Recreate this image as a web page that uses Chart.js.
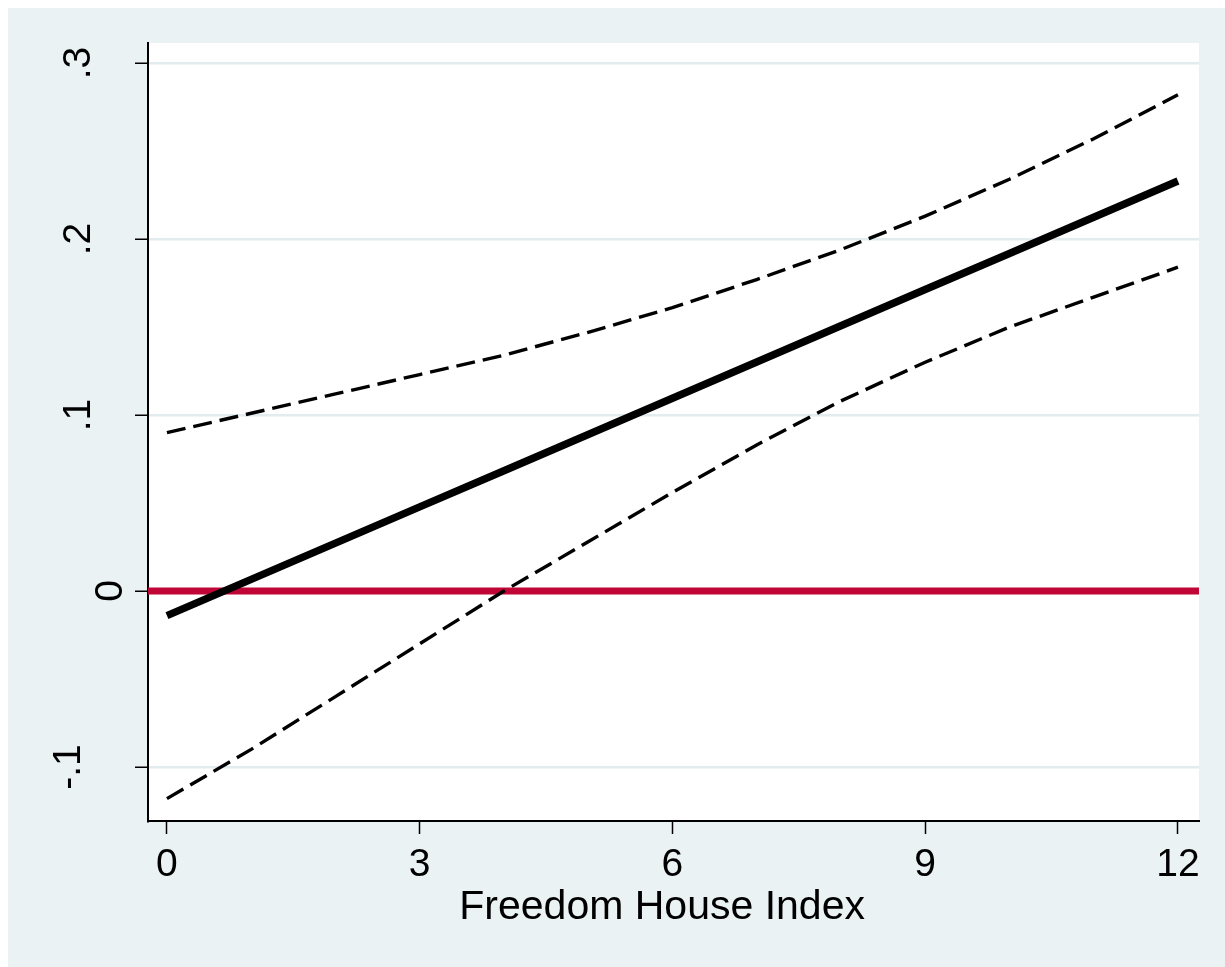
<!DOCTYPE html>
<html>
<head>
<meta charset="utf-8">
<script src="https://cdn.jsdelivr.net/npm/chart.js@4"></script>
<style>
  html, body { margin: 0; padding: 0; background: #ffffff; overflow: hidden; }
  canvas { display: block; }
</style>
</head>
<body>
<canvas id="c" width="1225" height="967"></canvas>
<script>
// ---- data ----
const xValues   = [0, 1, 2, 3, 4, 5, 6, 7, 8, 9, 10, 11, 12];
const predicted = [-0.0140, 0.0066, 0.0272, 0.0478, 0.0683, 0.0889, 0.1095, 0.1301, 0.1507, 0.1713, 0.1918, 0.2124, 0.2330];
const upperCI   = [0.090, 0.101, 0.112, 0.123, 0.134, 0.147, 0.161, 0.177, 0.194, 0.213, 0.234, 0.257, 0.282];
const lowerCI   = [-0.118, -0.090, -0.060, -0.030, 0.000, 0.028, 0.056, 0.083, 0.108, 0.130, 0.150, 0.167, 0.184];
const refLineY  = 0;

const xTicks = [0, 3, 6, 9, 12];
const xTickLabels = ['0', '3', '6', '9', '12'];
const yTicks = [-0.1, 0, 0.1, 0.2, 0.3];
const yTickLabels = ['-.1', '0', '.1', '.2', '.3'];
const xTitle = 'Freedom House Index';

const xMin = -0.225, xMax = 12.25;
const yMin = -0.1307, yMax = 0.3114;

// ---- styling ----
const FONT = "'Liberation Sans', Arial, Helvetica, sans-serif";
const BG = '#EAF2F3';
const GRID = '#E2ECEF';

const toPts = (ys) => xValues.map((x, i) => ({ x: x, y: ys[i] }));

const bgPlugin = {
  id: 'bg',
  beforeDraw(chart) {
    const ctx = chart.ctx, a = chart.chartArea;
    ctx.save();
    ctx.fillStyle = '#ffffff';
    ctx.fillRect(0, 0, chart.width, chart.height);
    ctx.fillStyle = BG;
    ctx.fillRect(8, 8, chart.width - 8, chart.height - 8);
    ctx.fillStyle = '#ffffff';
    ctx.fillRect(a.left, a.top, a.right - a.left, a.bottom - a.top);
    ctx.restore();
  }
};

// per-label cross offset (Stata places rotated labels unevenly)
const yLineHeights = { '-.1': '20px', '0': '64px' };

new Chart(document.getElementById('c'), {
  type: 'scatter',
  data: {
    datasets: [
      {
        data: toPts(predicted), showLine: true, borderColor: '#000000',
        borderWidth: 7.5, pointRadius: 0, fill: false
      },
      {
        data: toPts(upperCI), showLine: true, borderColor: '#000000',
        borderWidth: 3.4, borderDash: [19, 8], pointRadius: 0, fill: false
      },
      {
        data: toPts(lowerCI), showLine: true, borderColor: '#000000',
        borderWidth: 3.4, borderDash: [19, 8], pointRadius: 0, fill: false
      },
      {
        data: [{ x: xMin, y: refLineY }, { x: xMax, y: refLineY }], showLine: true,
        borderColor: '#C00637', borderWidth: 7, pointRadius: 0, fill: false
      }
    ]
  },
  options: {
    responsive: false,
    animation: false,
    devicePixelRatio: 1,
    layout: { padding: { top: 43, right: 26, left: 0, bottom: 0 } },
    plugins: {
      legend: { display: false },
      tooltip: { enabled: false }
    },
    scales: {
      x: {
        type: 'linear',
        min: xMin, max: xMax,
        afterFit(scale) {
          scale.height = 146;
          scale.paddingLeft = 0; scale.paddingRight = 0;
        },
        afterBuildTicks(scale) { scale.ticks = xTicks.map(v => ({ value: v })); },
        border: { display: true, color: '#000000', width: 2 },
        grid: {
          display: true, drawOnChartArea: false, drawTicks: true,
          tickLength: 13, tickColor: '#000000', tickWidth: 1.5
        },
        ticks: {
          autoSkip: false, maxRotation: 0, minRotation: 0,
          padding: 8, color: '#000000',
          font: { family: FONT, size: 39 },
          callback: (v, i) => xTickLabels[i]
        },
        title: {
          display: true, text: xTitle + '  ', color: '#000000',
          font: { family: FONT, size: 41 },
          padding: { top: 0, bottom: 35 }
        }
      },
      y: {
        type: 'linear',
        min: yMin, max: yMax,
        afterFit(scale) {
          scale.width = 148;
          scale.paddingTop = 0; scale.paddingBottom = 0;
        },
        afterBuildTicks(scale) { scale.ticks = yTicks.map(v => ({ value: v })); },
        border: { display: true, color: '#000000', width: 2 },
        grid: {
          display: true, drawOnChartArea: true, drawTicks: true,
          color: GRID, lineWidth: 2.5,
          tickLength: 13, tickColor: '#000000', tickWidth: 1.5
        },
        ticks: {
          autoSkip: false, minRotation: 90, maxRotation: 90,
          crossAlign: 'center', padding: 33, color: '#000000',
          font: (ctx) => {
            const lab = yTickLabels[ctx.index];
            return { family: FONT, size: 39, lineHeight: yLineHeights[lab] || 1.2 };
          },
          callback: (v, i) => {
            const lab = yTickLabels[i];
            if (lab === '0') return ['', lab];
            if (lab === '-.1') return [lab, ''];
            return lab;
          }
        }
      }
    }
  },
  plugins: [bgPlugin]
});
</script>
</body>
</html>
